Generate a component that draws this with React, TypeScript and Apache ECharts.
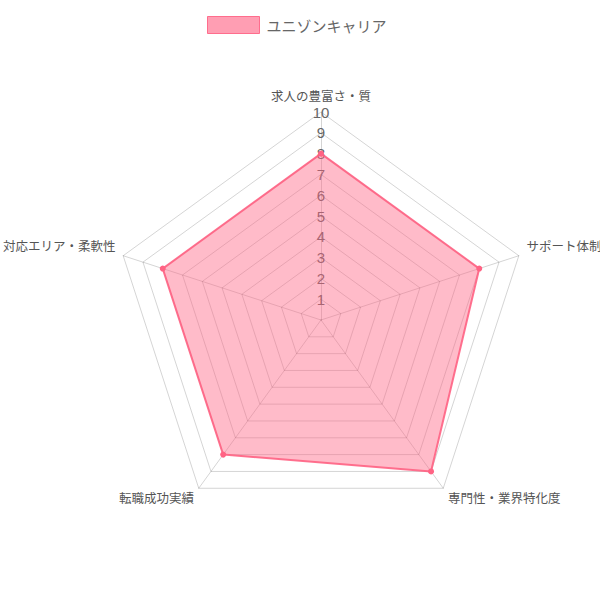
import React, { useEffect, useRef } from "react";
import * as echarts from "echarts";

const seriesName = "ユニゾンキャリア";
// Categories listed clockwise from the top, as in the reference
const categories = ["求人の豊富さ・質", "サポート体制", "専門性・業界特化度", "転職成功実績", "対応エリア・柔軟性"];
const values = [8, 8, 9, 8, 8];
const maxValue = 10;

const FONT = "'Noto Sans CJK JP', 'Noto Sans', sans-serif";

export default function App() {
  const ref = useRef<HTMLDivElement>(null);
  useEffect(() => {
    if (!ref.current) return;
    const chart = echarts.init(ref.current, undefined, { renderer: "svg" });
    // ECharts radar runs counter-clockwise; reorder so the picture reads clockwise
    const order = categories.map((_, i) => (i === 0 ? 0 : categories.length - i));
    const indicator = order.map((idx, i) =>
      i === 0
        ? {
            name: categories[idx],
            max: maxValue,
            min: 0,
            axisLabel: {
              show: true,
              showMinLabel: false,
              margin: 0,
              align: "center",
              verticalAlign: "middle",
              color: "#666",
              fontSize: 15,
              fontFamily: "Arial, 'Liberation Sans', sans-serif",
            },
          }
        : { name: categories[idx], max: maxValue, min: 0 }
    );
    const orderedValues = order.map((idx) => values[idx]);
    const labelStyle = (name: string) => {
      const k = categories.indexOf(name);
      if (k === 1 || k === 4) return `{side|${name}}`;
      if (k === 2 || k === 3) return `{bottom|${name}}`;
      return `{top|${name}}`;
    };
    const baseText = { color: "#555", fontSize: 12.5, fontFamily: FONT };
    chart.setOption({
      animation: false,
      backgroundColor: "#fff",
      legend: {
        left: 202,
        top: 11,
        icon: "rect",
        itemWidth: 52,
        itemHeight: 17,
        itemGap: 10,
        data: [seriesName],
        textStyle: { fontSize: 15, color: "#666", fontFamily: FONT, padding: [0, 0, 0, 2] },
        itemStyle: {
          color: "rgba(255,99,132,0.62)",
          borderColor: "rgba(255,99,132,0.9)",
          borderWidth: 1,
        },
      },
      radar: {
        center: [321, 320],
        radius: 208,
        startAngle: 90,
        splitNumber: 10,
        shape: "polygon",
        nameGap: 8,
        axisName: {
          ...baseText,
          formatter: labelStyle,
          rich: {
            top: { ...baseText, padding: [0, 0, 2, 0] },
            side: { ...baseText, padding: [0, 0, 16, 0] },
            bottom: { ...baseText, padding: [5, 0, 0, 0] },
          },
        },
        axisLine: { lineStyle: { color: "rgba(0,0,0,0.17)", width: 1 } },
        splitLine: { lineStyle: { color: "rgba(0,0,0,0.17)", width: 1 } },
        splitArea: { show: false },
        axisLabel: { show: false },
        axisTick: { show: false },
        indicator,
      },
      series: [
        {
          type: "radar",
          name: seriesName,
          symbol: "circle",
          symbolSize: 6,
          itemStyle: { color: "rgb(255,99,132)" },
          lineStyle: { color: "rgba(255,99,132,0.9)", width: 2 },
          areaStyle: { color: "rgba(255,99,132,0.62)" },
          data: [{ value: orderedValues, name: seriesName }],
        },
      ],
    });
    return () => chart.dispose();
  }, []);
  return (
    <div
      ref={ref}
      style={{ position: "absolute", left: 0, top: 0, width: 600, height: 600 }}
    />
  );
}
